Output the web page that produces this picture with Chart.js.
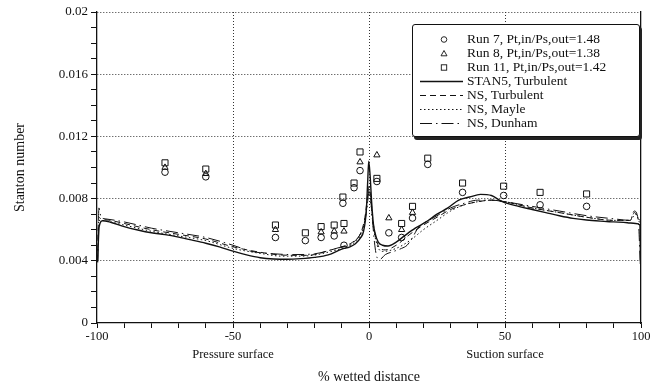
<!DOCTYPE html>
<html>
<head>
<meta charset="utf-8">
<script src="https://cdn.jsdelivr.net/npm/chart.js@4.4.1/dist/chart.umd.min.js"></script>
<style>
  html, body { margin: 0; padding: 0; background: #fff; }
  #wrap { position: relative; width: 655px; height: 387px; }
  #legend {
    position: absolute; left: 412px; top: 24px; width: 228px; height: 113px;
    box-sizing: border-box; padding-top: 7px;
    border: 1.5px solid #111; border-radius: 3px; box-shadow: 2px 3px 0 #222;
    background: #fff; color: #111;
    font: 13.5px 'Liberation Serif', 'Times New Roman', serif;
  }
  .row { display: flex; align-items: center; height: 14px; white-space: nowrap; }
  .row svg { width: 54px; height: 14px; flex: none; }
</style>
</head>
<body>
<div id="wrap">
  <canvas id="chart" width="655" height="387"></canvas>
  <div id="legend"></div>
</div>
<script>
// measured runs (open markers)
const run7X  = [-75, -60, -34.4, -23.4, -17.6, -12.8, -9.6, -9.2, -5.5, -3.3, 2.9, 7.3, 12, 16, 21.6, 34.4, 49.5, 62.9, 80]
const run7Y  = [0.0097, 0.0094, 0.0055, 0.0053, 0.0055, 0.0056, 0.0077, 0.0050, 0.0087, 0.0098, 0.0091, 0.0058, 0.0055, 0.00675, 0.0102, 0.0084, 0.0082, 0.0076, 0.0075]
const run8X  = [-75, -60, -34.4, -17.6, -12.8, -9.2, -3.3, 2.9, 7.3, 12, 16]
const run8Y  = [0.0100, 0.0096, 0.0060, 0.00585, 0.0059, 0.0059, 0.01035, 0.0108, 0.00675, 0.0060, 0.0071]
const run11X = [-75, -60, -34.4, -23.4, -17.6, -12.8, -9.6, -9.2, -5.5, -3.3, 2.9, 12, 16, 21.6, 34.4, 49.5, 62.9, 80]
const run11Y = [0.0103, 0.0099, 0.0063, 0.0058, 0.0062, 0.0063, 0.0081, 0.0064, 0.0090, 0.0110, 0.0093, 0.0064, 0.0075, 0.0106, 0.0090, 0.0088, 0.0084, 0.0083]

// predictions
const stanX = [-99.8, -99.2, -98, -95, -90, -85, -80, -75, -70, -65, -60, -55, -50, -45, -40, -35, -30, -25, -20, -15, -10, -7, -5, -3, -2, -1, -0.5, -0.1, 0.4, 1, 1.6, 2.2, 3.4, 5, 7, 10, 13, 17, 21, 25, 29, 33, 37, 41, 45, 49, 55, 60, 65, 70, 75, 80, 85, 90, 95, 98, 99.6, 99.8]
const stanY = [0.0039, 0.0062, 0.00658, 0.00648, 0.0062, 0.00598, 0.0058, 0.00568, 0.00552, 0.00533, 0.00513, 0.0049, 0.00462, 0.00438, 0.0042, 0.00412, 0.0041, 0.00414, 0.00422, 0.00438, 0.00475, 0.0049, 0.0051, 0.0055, 0.0059, 0.0072, 0.0090, 0.0104, 0.0095, 0.0077, 0.0064, 0.0058, 0.0052, 0.0050, 0.00495, 0.0052, 0.0056, 0.0061, 0.0065, 0.0070, 0.0074, 0.0079, 0.0081, 0.00827, 0.0082, 0.0078, 0.0075, 0.0073, 0.0071, 0.0069, 0.00673, 0.00662, 0.00655, 0.0065, 0.00645, 0.0064, 0.0063, 0.0038]

const nsTurbX = [-99.8, -99.4, -98.5, -95, -90, -80, -70, -60, -50, -40, -32, -25, -20, -14, -10, -6, -3, -1.5, -0.5, 0, 0.5, 1.5, 2.5, 4, 6, 10, 15, 20, 25, 30, 35, 40, 45, 50, 55, 60, 70, 80, 90, 96, 97.6, 99.5]
const nsTurbY = [0.0040, 0.0068, 0.0067, 0.0066, 0.0064, 0.0060, 0.0057, 0.0054, 0.0049, 0.00455, 0.00437, 0.00435, 0.0044, 0.0047, 0.0049, 0.0052, 0.0058, 0.0068, 0.0082, 0.0088, 0.0083, 0.0065, 0.0055, 0.0048, 0.0047, 0.0050, 0.0057, 0.0063, 0.0068, 0.0073, 0.0076, 0.0078, 0.0079, 0.0078, 0.0076, 0.0074, 0.0071, 0.0068, 0.0066, 0.0066, 0.0071, 0.0066]

const mayleX = [-99.4, -98.5, -95, -90, -80, -70, -60, -50, -40, -32, -25, -20, -14, -10, -6, -3, -1.5, -0.5, 0, 0.5, 1.5, 3, 5, 10, 15, 20, 25, 30, 35, 40, 45, 50, 60, 70, 80, 90, 96, 98, 99.6]
const mayleY = [0.0066, 0.0066, 0.0065, 0.0063, 0.0059, 0.0056, 0.0053, 0.0048, 0.00448, 0.0043, 0.0043, 0.00437, 0.0046, 0.0048, 0.0051, 0.0057, 0.0066, 0.0079, 0.0085, 0.0080, 0.0063, 0.0050, 0.0046, 0.0048, 0.0053, 0.0060, 0.0066, 0.0072, 0.0076, 0.0078, 0.0079, 0.0078, 0.0074, 0.0071, 0.0068, 0.0066, 0.0066, 0.0070, 0.0064]

const dunhamX = [-99.7, -99.3, -98.5, -97, -90, -80, -70, -60, -50, -43, -35, -28, -20, -14, -10, -7, -5, -3, -1.5, -0.5, 0, 0.6, 1.2, 2, 3, 4, 6, 9, 12, 14, 16, 18, 20, 23, 26, 30, 35, 40, 45, 50, 60, 70, 80, 90, 96, 97.5, 99, 99.7]
const dunhamY = [0.0040, 0.0074, 0.0068, 0.0067, 0.0065, 0.0061, 0.0058, 0.0055, 0.0050, 0.0046, 0.00445, 0.0044, 0.00445, 0.0047, 0.0049, 0.0050, 0.0053, 0.0058, 0.0066, 0.0078, 0.0086, 0.0080, 0.0068, 0.0052, 0.0042, 0.0041, 0.0044, 0.0046, 0.0048, 0.0050, 0.0055, 0.0061, 0.0064, 0.0067, 0.0070, 0.0074, 0.0077, 0.0079, 0.0079, 0.0078, 0.0075, 0.0072, 0.0069, 0.0067, 0.0066, 0.0072, 0.0066, 0.0040]

const xMajor = [-50, 0, 50]
const surfaceNames = { '-50': 'Pressure surface', '50': 'Suction surface' }

const serif = "'Liberation Serif', 'Times New Roman', serif"
const ink = '#111'

const pts = (xs, ys) => xs.map((x, i) => ({ x, y: ys[i] }))

function marks(label, xs, ys, style, r) {
  return {
    label, data: pts(xs, ys), showLine: false,
    pointStyle: style, pointRadius: r, pointBorderWidth: 1,
    pointBorderColor: ink, pointBackgroundColor: 'rgba(0,0,0,0)',
    borderColor: ink, backgroundColor: 'rgba(0,0,0,0)'
  }
}

function curve(label, xs, ys, dash, width) {
  return {
    label, data: pts(xs, ys), showLine: true, pointRadius: 0,
    borderColor: ink, borderWidth: width, borderDash: dash,
    cubicInterpolationMode: 'monotone', fill: false
  }
}

const datasets = [
  marks('Run 7, Pt,in/Ps,out=1.48', run7X, run7Y, 'circle', 3.3),
  marks('Run 8, Pt,in/Ps,out=1.38', run8X, run8Y, 'triangle', 3.6),
  marks('Run 11, Pt,in/Ps,out=1.42', run11X, run11Y, 'rect', 4.3),
  curve('STAN5, Turbulent', stanX, stanY, [], 1.4),
  curve('NS, Turbulent', nsTurbX, nsTurbY, [6, 4], 1),
  curve('NS, Mayle', mayleX, mayleY, [1.5, 2.5], 1),
  curve('NS, Dunham', dunhamX, dunhamY, [12, 4, 1.5, 4], 1)
]

const dotted = '#333'
const clear = 'rgba(0,0,0,0)'

new Chart(document.getElementById('chart'), {
  type: 'scatter',
  data: { datasets },
  options: {
    responsive: false,
    animation: false,
    layout: { padding: { top: 12, right: 14, left: 0, bottom: 0 } },
    plugins: { legend: { display: false }, tooltip: { enabled: false } },
    scales: {
      x: {
        type: 'linear', min: -100, max: 100,
        afterFit: s => { s.height = 64 },
        ticks: {
          stepSize: 10, autoSkip: false, maxRotation: 0, padding: 0, color: ink,
          font: { family: serif, size: 12.5, lineHeight: 1.45 },
          callback: v => surfaceNames[v] ? [String(v), surfaceNames[v]] : (v % 50 === 0 ? String(v) : '')
        },
        grid: { color: c => xMajor.includes(c.tick && c.tick.value) ? dotted : clear, tickColor: ink, tickLength: 5 },
        border: { color: ink, width: 1.3, dash: [1, 2] },
        title: { display: true, text: '% wetted distance', color: ink, font: { family: serif, size: 14 }, padding: { top: 0, bottom: 1 } }
      },
      y: {
        min: 0, max: 0.02,
        afterFit: s => { s.width = 97 },
        ticks: {
          stepSize: 0.001, autoSkip: false, padding: 3, color: ink,
          font: { family: serif, size: 13 },
          callback: v => Math.round(v * 1000) % 4 === 0 ? String(+v.toFixed(3)) : ''
        },
        grid: {
          color: c => { const k = Math.round(c.tick.value * 1000); return k > 0 && k % 4 === 0 ? dotted : clear },
          tickColor: ink, tickLength: 6
        },
        border: { color: ink, width: 1.3, dash: [1, 2] },
        title: { display: true, text: 'Stanton number', color: ink, font: { family: serif, size: 14 }, padding: { top: 12, bottom: 0 } }
      },
      y2: {
        position: 'right', min: 0, max: 0.02,
        afterFit: s => { s.width = 0 },
        ticks: { display: false },
        grid: { display: false, drawOnChartArea: false, drawTicks: false },
        border: { display: true, color: ink, width: 1.3 }
      }
    }
  }
})

// legend: symbol + label for each dataset
const svgNS = 'http://www.w3.org/2000/svg'
const legend = document.getElementById('legend')
datasets.forEach(ds => {
  const row = document.createElement('div')
  row.className = 'row'
  const svg = document.createElementNS(svgNS, 'svg')
  let shape
  if (ds.showLine) {
    shape = document.createElementNS(svgNS, 'line')
    shape.setAttribute('x1', 7); shape.setAttribute('x2', 50)
    shape.setAttribute('y1', 7.5); shape.setAttribute('y2', 7.5)
    shape.setAttribute('stroke-width', ds.borderWidth)
    if (ds.borderDash.length) shape.setAttribute('stroke-dasharray', ds.borderDash.join(' '))
  } else if (ds.pointStyle === 'circle') {
    shape = document.createElementNS(svgNS, 'circle')
    shape.setAttribute('cx', 31); shape.setAttribute('cy', 7.5); shape.setAttribute('r', 2.8)
  } else if (ds.pointStyle === 'triangle') {
    shape = document.createElementNS(svgNS, 'polygon')
    shape.setAttribute('points', '31,4.5 34,9.8 28,9.8')
  } else {
    shape = document.createElementNS(svgNS, 'rect')
    shape.setAttribute('x', 28.3); shape.setAttribute('y', 4.8)
    shape.setAttribute('width', 5.4); shape.setAttribute('height', 5.4)
  }
  shape.setAttribute('stroke', ink)
  shape.setAttribute('fill', 'none')
  if (!ds.showLine) shape.setAttribute('stroke-width', 0.9)
  svg.appendChild(shape)
  const text = document.createElement('span')
  text.textContent = ds.label
  row.appendChild(svg)
  row.appendChild(text)
  legend.appendChild(row)
})
</script>
</body>
</html>
